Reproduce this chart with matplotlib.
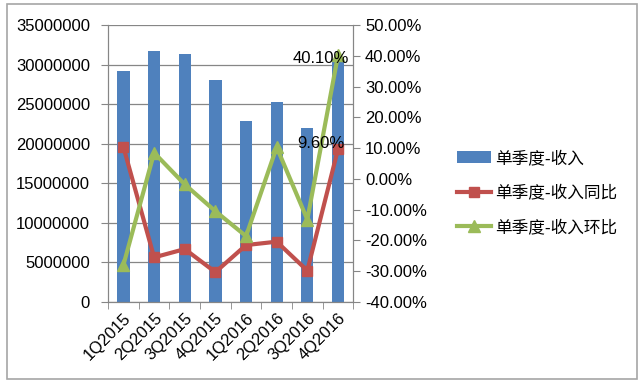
import matplotlib.pyplot as plt
import numpy as np
from matplotlib.patches import Rectangle

plt.rcParams['font.family'] = ['Liberation Sans', 'Noto Sans CJK SC', 'DejaVu Sans']

quarters = ['1Q2015', '2Q2015', '3Q2015', '4Q2015', '1Q2016', '2Q2016', '3Q2016', '4Q2016']
revenue = [29190000, 31750000, 31300000, 28050000, 22900000, 25300000, 21950000, 30750000]
yoy = [10.3, -25.5, -22.8, -30.3, -21.5, -20.4, -29.8, 9.6]
qoq = [-27.9, 8.5, -1.8, -10.5, -18.6, 10.3, -13.2, 40.1]
names = ['单季度-收入', '单季度-收入同比', '单季度-收入环比']

blue = '#4F81BD'
red = '#C0504D'
green = '#9BBB59'
axis_gray = '#868686'

fig = plt.figure(figsize=(6.4, 3.86), dpi=100)
fig.patches.append(Rectangle((0.011, 0.018), 0.984, 0.972, transform=fig.transFigure,
                             fill=False, edgecolor='#A6A6A6', linewidth=1.2))

ax = fig.add_axes([0.169, 0.2176, 0.383, 0.7176])
x = np.arange(len(quarters))
ax.bar(x, revenue, width=0.4, color=blue, zorder=2, label=names[0])
ax.set_xlim(-0.5, len(quarters) - 0.5)
ax.set_ylim(0, 35000000)
ax.set_yticks(np.arange(0, 35000001, 5000000))
ax.set_yticklabels([str(v) for v in range(0, 35000001, 5000000)])
ax.yaxis.grid(True, color=axis_gray, linewidth=0.9, zorder=0)
ax.set_axisbelow(True)

ax.set_xticks(x)
ax.set_xticklabels(quarters, rotation=45, ha='right', rotation_mode='anchor')
ax.set_xticks(np.arange(-0.5, len(quarters)), minor=True)
ax.tick_params(axis='x', which='major', length=0, pad=6, labelsize=12)
ax.tick_params(axis='x', which='minor', length=5, color=axis_gray, direction='out')
ax.tick_params(axis='y', length=5, color=axis_gray, direction='out', pad=8, labelsize=12)

for s in ['left', 'bottom', 'right']:
    ax.spines[s].set_color(axis_gray)
ax.spines['top'].set_visible(False)

ax2 = ax.twinx()
ax2.plot(x, yoy, color=red, linewidth=3, marker='s', markersize=7, label=names[1], zorder=3)
ax2.plot(x, qoq, color=green, linewidth=3, marker='^', markersize=8, label=names[2], zorder=4)
ax2.set_ylim(-40, 50)
ax2.set_yticks(np.arange(-40, 51, 10))
ax2.set_yticklabels(['%.2f%%' % v for v in np.arange(-40, 51, 10)])
ax2.tick_params(axis='y', length=5, color=axis_gray, direction='out', labelsize=12)
for s in ['left', 'bottom', 'right']:
    ax2.spines[s].set_color(axis_gray)
ax2.spines['top'].set_visible(False)

ax2.annotate('%.2f%%' % qoq[-1], (x[-1], qoq[-1]), xytext=(11, -3), textcoords='offset pixels',
             ha='right', va='center', fontsize=12, zorder=6)
ax2.annotate('%.2f%%' % yoy[-1], (x[-1], yoy[-1]), xytext=(7, 6), textcoords='offset pixels',
             ha='right', va='center', fontsize=12, zorder=6)

h1, l1 = ax.get_legend_handles_labels()
h2, l2 = ax2.get_legend_handles_labels()
fig.legend(h1 + h2, l1 + l2, loc='center left', bbox_to_anchor=(0.691, 0.50),
           frameon=False, prop={'family': ['Noto Sans CJK SC'], 'size': 12},
           handlelength=2.0, labelspacing=1.05, handletextpad=0.3)

fig.savefig('out.png', dpi=100)
